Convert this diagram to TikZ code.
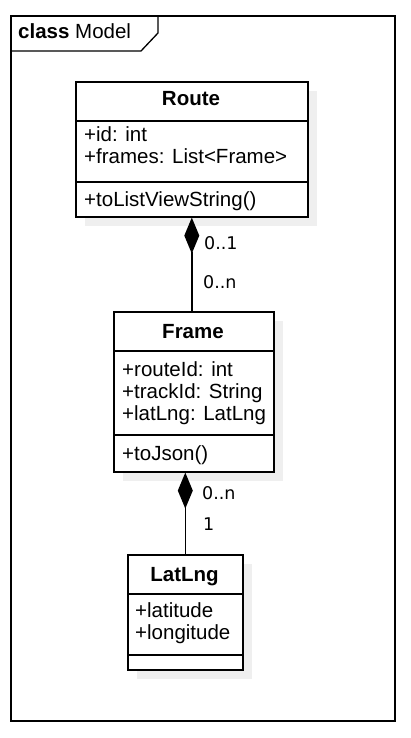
\documentclass[tikz,border=0pt]{standalone}
\usepackage{fontspec}
\setmainfont{Liberation Sans}
\newfontfamily\labelfont{DejaVu Sans}
\usetikzlibrary{arrows.meta}
\definecolor{shadowgray}{HTML}{EFEFEF}
\begin{document}
\begin{tikzpicture}[x=1pt,y=-1pt,
  classbox/.style={draw=black, line width=1.6pt, fill=white, anchor=north west, inner sep=0pt},
  shadowbox/.style={fill=shadowgray, draw=none, anchor=north west, inner sep=0pt},
  classtitle/.style={font=\fontsize{20.5}{22}\selectfont\bfseries, anchor=base, inner sep=0pt},
  member/.style={font=\fontsize{20.5}{22}\selectfont, anchor=base west, inner sep=0pt},
  mult/.style={font=\labelfont\fontsize{17.5}{18}\selectfont, anchor=base west, inner sep=0pt},
  sepline/.style={line width=1.6pt},
  assoc/.style={line width=1.5pt, {Diamond[length=36pt,width=15pt]}-},
  framestyle/.style={line width=1.3pt}
]
\useasboundingbox (0,0) rectangle (410,738);
\fill[white] (0,0) rectangle (410,738);
% outer frame
\draw[framestyle] (11,16) rectangle (395,721);
\draw[framestyle] (11,51) -- (141,51) -- (158,33) -- (158,16);
\node[member] (frametitle) at (18,39) {\textbf{class} Model};

% Route
\node[shadowbox, minimum width=232pt, minimum height=135pt] (routeshadow) at (85,91) {};
\node[classbox, minimum width=232pt, minimum height=135pt] (route) at (75,81) {};
\draw[sepline] (75,121) -- (307,121);
\draw[sepline] (75,182) -- (307,182);
\node[classtitle] (routetitle) at (191,106) {Route};
\node[member] (routeid) at (84,142) {+id: int};
\node[member] (routeframes) at (84,164) {+frames: List<Frame>};
\node[member] (routeop) at (84,206) {+toListViewString()};

% Frame
\node[shadowbox, minimum width=160pt, minimum height=160pt] (frameshadow) at (123,321) {};
\node[classbox, minimum width=160pt, minimum height=160pt] (frame) at (113,311) {};
\draw[sepline] (113,351) -- (273,351);
\draw[sepline] (113,435) -- (273,435);
\node[classtitle] (frametitle2) at (193,338) {Frame};
\node[member] (frameroute) at (122,376) {+routeId: int};
\node[member] (frametrack) at (122,398) {+trackId: String};
\node[member] (framelatlng) at (122,420) {+latLng: LatLng};
\node[member] (frameop) at (122,460) {+toJson()};

% LatLng
\node[shadowbox, minimum width=115pt, minimum height=115pt] (latlngshadow) at (137,564) {};
\node[classbox, minimum width=115pt, minimum height=115pt] (latlng) at (127,554) {};
\draw[sepline] (127,594) -- (242,594);
\draw[sepline] (127,655) -- (242,655);
\node[classtitle] (latlngtitle) at (184.5,581) {LatLng};
\node[member] (latlat) at (135,617) {+latitude};
\node[member] (latlon) at (135,639) {+longitude};

% connectors
\draw[assoc] (route.south) -- (route.south |- frame.north);
\draw[assoc] (latlng.north |- frame.south) -- (latlng.north);

% multiplicities
\node[mult] (m1) at (204,249) {0..1};
\node[mult] (m2) at (203,288) {0..n};
\node[mult] (m3) at (202,499) {0..n};
\node[mult] (m4) at (203,530) {1};
\end{tikzpicture}
\end{document}
